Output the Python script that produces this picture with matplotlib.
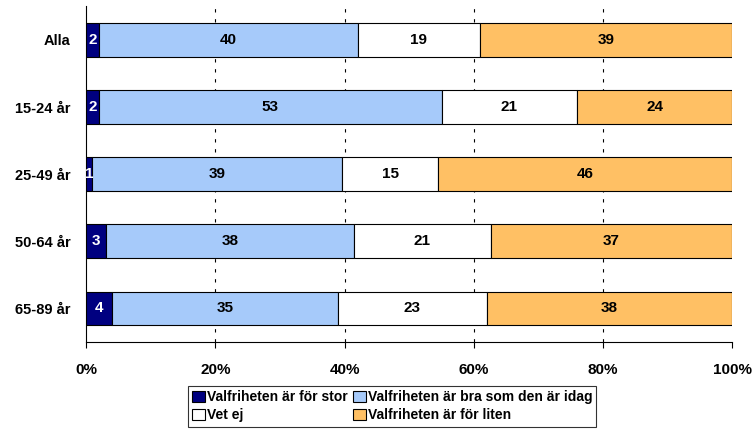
import matplotlib.pyplot as plt
import numpy as np

plt.rcParams['font.family'] = ['Liberation Sans', 'DejaVu Sans']
plt.rcParams['font.weight'] = 'bold'

# Data
groups = ['Alla', '15-24 år', '25-49 år', '50-64 år', '65-89 år']
series = ['Valfriheten är för stor', 'Valfriheten är bra som den är idag',
          'Vet ej', 'Valfriheten är för liten']
values = np.array([
    [2, 40, 19, 39],
    [2, 53, 21, 24],
    [1, 39, 15, 46],
    [3, 38, 21, 37],
    [4, 35, 23, 38],
], dtype=float)
colors = ['#000080', '#A6CAFA', '#FFFFFF', '#FFC064']
text_colors = ['white', 'black', 'black', 'black']

# 100% stacked like Excel
shares = values / values.sum(axis=1, keepdims=True) * 100

fig = plt.figure(figsize=(7.55, 4.3), dpi=100)
ax = fig.add_axes([0.114, 0.205, 0.856, 0.780])

y = np.arange(len(groups))
left = np.zeros(len(groups))
bars = []
for j in range(len(series)):
    b = ax.barh(y, shares[:, j], left=left, height=0.5, color=colors[j],
                edgecolor='black', linewidth=0.8, label=series[j], zorder=3)
    bars.append(b)
    for i in range(len(groups)):
        ax.text(left[i] + shares[i, j] / 2, y[i], f'{int(values[i, j])}',
                ha='center', va='center', color=text_colors[j],
                fontsize=11, fontweight='bold', zorder=4)
    left += shares[:, j]

ax.set_xlim(0, 100)
ax.set_ylim(len(groups) - 0.5, -0.5)
ax.set_xticks(np.arange(0, 101, 20))
ax.set_xticklabels([f'{t}%' for t in range(0, 101, 20)], fontsize=11, fontweight='bold')
ax.set_yticks(y)
ax.set_yticklabels(groups, fontsize=10.5, fontweight='bold')
ax.tick_params(axis='y', length=0, pad=11)
ax.tick_params(axis='x', length=4, direction='out', pad=11)

for x in range(20, 100, 20):
    ax.axvline(x, color='black', linestyle=(0, (3, 6)), linewidth=0.8, zorder=1)

for s in ['top', 'right']:
    ax.spines[s].set_visible(False)
for s in ['left', 'bottom']:
    ax.spines[s].set_color('black')
    ax.spines[s].set_linewidth(0.8)

handles = [bars[0], bars[2], bars[1], bars[3]]
labels = [series[0], series[2], series[1], series[3]]
leg = fig.legend(handles, labels, ncol=2, loc='center', bbox_to_anchor=(0.5195, 0.055),
                 frameon=True, fancybox=False, edgecolor='black', fontsize=10,
                 handlelength=0.9, handleheight=0.9, handletextpad=0.15,
                 columnspacing=0.4, labelspacing=0.3, borderpad=0.3, borderaxespad=0)
leg.get_frame().set_linewidth(0.8)

plt.savefig('out.png', dpi=100)
